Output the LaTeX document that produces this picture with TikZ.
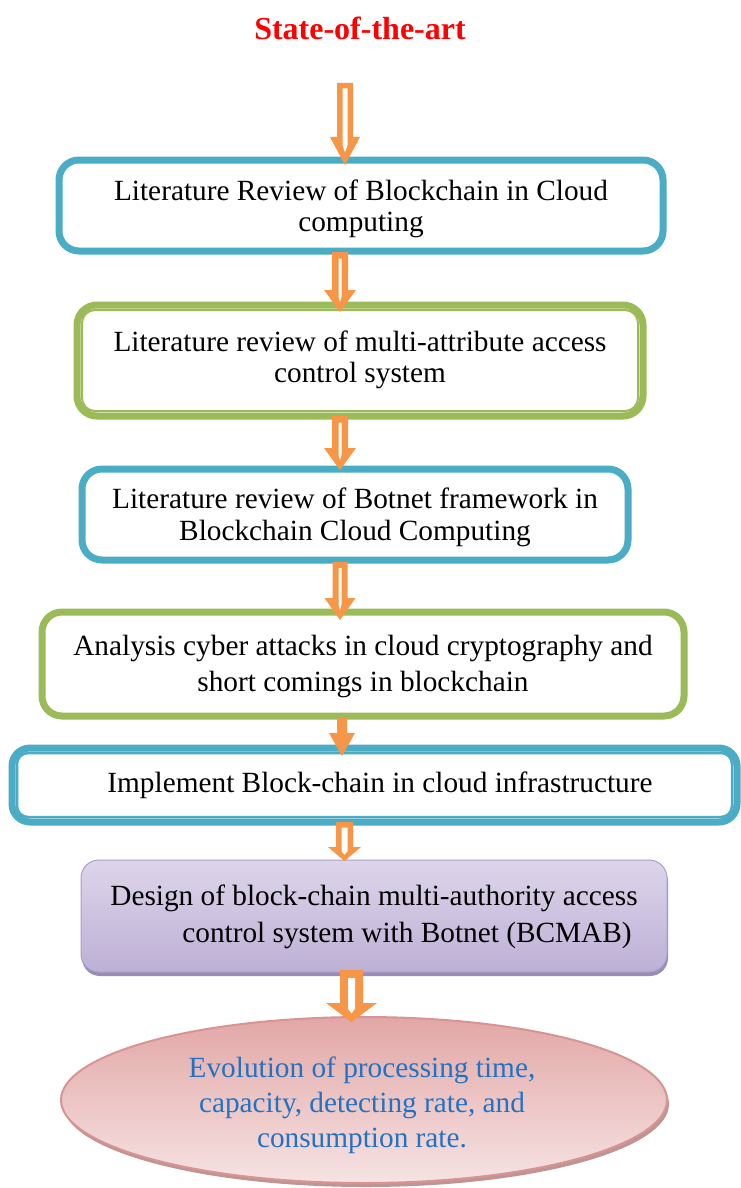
\documentclass[tikz,border=0pt]{standalone}
\usepackage{fontspec}
\setmainfont{Liberation Serif}
\usetikzlibrary{shapes.geometric,shadows}
\definecolor{cblue}{HTML}{4BACC6}
\definecolor{cgreen}{HTML}{9BBB59}
\definecolor{corange}{HTML}{F79646}
\definecolor{ctitle}{HTML}{FF0000}
\definecolor{ptop}{HTML}{DDD5EA}
\definecolor{pbot}{HTML}{BDB0D6}
\definecolor{pedge}{HTML}{AC9DCB}
\definecolor{pshadow}{HTML}{8E80AE}
\definecolor{etop}{HTML}{E2A7A6}
\definecolor{ebot}{HTML}{F6E3E3}
\definecolor{eedge}{HTML}{D79493}
\definecolor{eshadow}{HTML}{B98988}
\definecolor{etext}{HTML}{2272C3}
\newcommand\blockarrow[7]{%
  \fill[corange] (#1-#5,#2) -- (#1-#5,#3) -- (#1-#6,#3) -- (#1,#4) -- (#1+#6,#3) -- (#1+#5,#3) -- (#1+#5,#2) -- cycle;
  \fill[white] (#1-#5+#7,#2+#7) -- (#1-#5+#7,{#3+0.3*(#4-#3)}) -- (#1,{#3+0.55*(#4-#3)}) -- (#1+#5-#7,{#3+0.3*(#4-#3)}) -- (#1+#5-#7,#2+#7) -- cycle;
}
\begin{document}
\begin{tikzpicture}[x=1pt,y=-1pt,
  boxtext/.style={font=\fontsize{29.3}{31}\selectfont, align=center, inner sep=0pt},
  flowbox/.style={rectangle, rounded corners=20pt, line width=7pt, fill=white, inner sep=0pt}
]
\useasboundingbox[fill=white] (0,0) rectangle (741,1188);

\node[font=\fontsize{32}{36}\selectfont\bfseries, text=ctitle, inner sep=0pt] (title) at (360,28) {State-of-the-art};

% box 1
\node[flowbox, draw=cblue, minimum width=604pt, minimum height=91pt] (b1) at (361,205.5) {};
\node[boxtext] (t1) at (361,208.5) {Literature Review of Blockchain in Cloud\\computing};

% box 2 (double green)
\node[flowbox, draw=cgreen, minimum width=566pt, minimum height=111pt] (b2) at (360,360.5) {};
\draw[cgreen, line width=2pt, rounded corners=13pt] ([shift={(8.5,8.5)}]b2.north west) rectangle ([shift={(-8.5,-8.5)}]b2.south east);
\node[boxtext] (t2) at (360,360) {Literature review of multi-attribute access\\control system};

% box 3
\node[flowbox, draw=cblue, minimum width=546pt, minimum height=91pt] (b3) at (355,514.5) {};
\node[boxtext, font=\fontsize{29.3}{32}\selectfont] (t3) at (355,517) {Literature review of Botnet framework in\\Blockchain Cloud Computing};

% box 4
\node[flowbox, draw=cgreen, minimum width=642pt, minimum height=104pt] (b4) at (363,664) {};
\node[boxtext, font=\fontsize{29.3}{36}\selectfont] (t4) at (363,666) {Analysis cyber attacks in cloud cryptography and\\short comings in blockchain};

% box 5 (double blue)
\node[flowbox, rounded corners=18pt, draw=cblue, minimum width=725pt, minimum height=74pt] (b5) at (374.5,785) {};
\draw[cblue, line width=2.5pt, rounded corners=11pt] ([shift={(8.5,8.5)}]b5.north west) rectangle ([shift={(-8.5,-8.5)}]b5.south east);
\node[boxtext] (t5) at (380,785.5) {Implement Block-chain in cloud infrastructure};

% box 6 (purple)
\node[rectangle, rounded corners=18pt, top color=ptop, bottom color=pbot, draw=pedge, line width=1pt,
      drop shadow={shadow xshift=1pt, shadow yshift=-4pt, fill=pshadow, opacity=0.9},
      minimum width=586pt, minimum height=112pt, inner sep=0pt] (b6) at (374,916) {};
\node[boxtext, font=\fontsize{29.3}{37}\selectfont] (t6) at (374,916.5) {Design of block-chain multi-authority access\\\hspace*{66pt}control system with Botnet (BCMAB)};

% ellipse
\node[ellipse, top color=etop, bottom color=ebot, draw=eedge, line width=2pt,
      drop shadow={shadow xshift=2pt, shadow yshift=-4pt, fill=eshadow, opacity=0.9},
      minimum width=606pt, minimum height=166pt, inner sep=0pt] (ell) at (364,1100) {};
\node[boxtext, font=\fontsize{29.3}{35}\selectfont, text=etext] (t7) at (362,1105) {Evolution of processing time,\\capacity, detecting rate, and\\consumption rate.};

% arrows
\blockarrow{345}{83}{137}{165}{8}{15}{5.5}
\blockarrow{340}{252}{290}{312}{8}{16}{6.5}
\blockarrow{340}{416}{448}{470}{8}{16}{6.5}
\blockarrow{340}{562}{598}{620}{7.5}{15.5}{6}
\fill[corange] (342-5,718) -- (342-5,733) -- (342-13,733) -- (342,756) -- (342+13,733) -- (342+5,733) -- (342+5,718) -- cycle;
\blockarrow{344.5}{822}{847}{861}{8.5}{16.5}{5.5}
\blockarrow{351.5}{970}{1003}{1022}{11.5}{25.5}{8}
\end{tikzpicture}
\end{document}
